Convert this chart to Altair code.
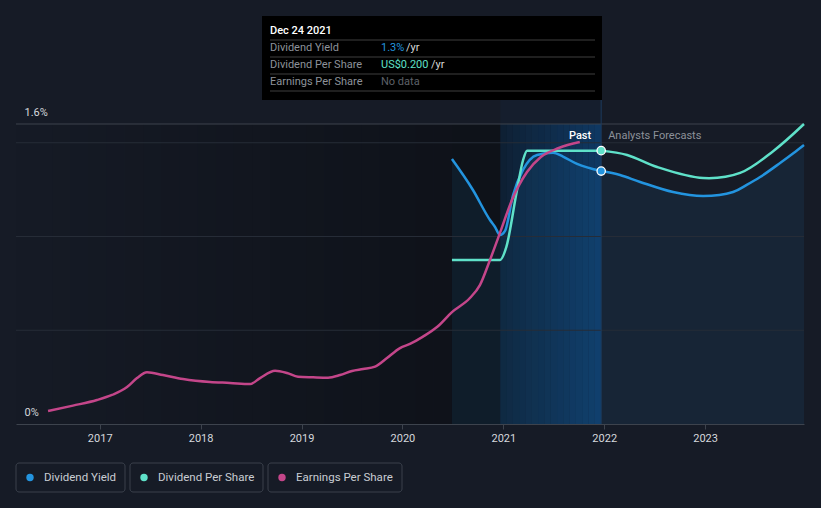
import altair as alt
import pandas as pd

# ---------------- data (decimal years; values on the chart's shared % scale) ----------------
eps_x = [2016.488, 2016.735, 2016.973, 2017.122, 2017.271, 2017.370, 2017.469, 2017.627, 2017.826,
         2018.093, 2018.291, 2018.490, 2018.589, 2018.738, 2018.857, 2018.966, 2019.115, 2019.263,
         2019.382, 2019.501, 2019.610, 2019.729, 2019.847, 2019.976, 2020.075, 2020.204, 2020.343,
         2020.491, 2020.669, 2020.768, 2020.868, 2020.967, 2021.086, 2021.235, 2021.372, 2021.550,
         2021.758]
eps_v = [0.069, 0.098, 0.128, 0.155, 0.197, 0.245, 0.276, 0.261, 0.240,
         0.224, 0.219, 0.213, 0.245, 0.284, 0.272, 0.252, 0.249, 0.247,
         0.261, 0.283, 0.293, 0.306, 0.352, 0.405, 0.427, 0.466, 0.517,
         0.597, 0.672, 0.741, 0.875, 1.019, 1.195, 1.344, 1.424, 1.472,
         1.504]

yield_x = [2020.491, 2020.699, 2020.868, 2020.918, 2020.967, 2021.017, 2021.096, 2021.195, 2021.334,
           2021.493, 2021.592, 2021.731, 2021.970, 2022.157, 2022.356, 2022.683, 2022.980, 2023.277,
           2023.412, 2023.545, 2023.743, 2023.874, 2023.980]
yield_v = [1.413, 1.248, 1.088, 1.051, 1.008, 1.030, 1.220, 1.355, 1.435,
           1.447, 1.426, 1.387, 1.349, 1.328, 1.291, 1.237, 1.216, 1.237,
           1.275, 1.317, 1.392, 1.444, 1.488]

dps_x = [2020.491, 2020.967, 2021.031, 2021.130, 2021.196, 2021.236, 2021.970, 2022.227, 2022.524,
         2022.980, 2023.347, 2023.674, 2023.980]
dps_v = [0.875, 0.875, 0.946, 1.230, 1.408, 1.458, 1.458, 1.435, 1.371,
         1.312, 1.339, 1.455, 1.600]

series_names = ["Dividend Yield", "Dividend Per Share", "Earnings Per Share"]
series_colors = ["#2394df", "#5fe1c9", "#c4468a"]

year_ticks = [2017, 2018, 2019, 2020, 2021, 2022, 2023]
y_label_vals = [0, 1.6]
grid_vals = [0.5, 1.0, 1.5]
top_val = 1.6

x_start, x_end = 2016.1705, 2023.980
now_x = 2021.970
band_start = 2020.970
past_dark_full = 2020.49

tip_date = "Dec 24 2021"
tip_labels = ["Dividend Yield", "Dividend Per Share", "Earnings Per Share"]
tip_values = ["1.3%", "US$0.200", "No data"]
tip_value_colors = ["#2394df", "#5fe1c9", "#5d6168"]

BG = "#161b26"
FONT = "Roboto"

# ---------------- tables ----------------
lines_df = pd.concat([
    pd.DataFrame({"x": yield_x, "v": yield_v, "s": series_names[0]}),
    pd.DataFrame({"x": dps_x, "v": dps_v, "s": series_names[1]}),
    pd.DataFrame({"x": eps_x, "v": eps_v, "s": series_names[2]}),
], ignore_index=True)
past_df = lines_df[lines_df["x"] <= now_x]
fc_df = lines_df[lines_df["x"] >= now_x]
yield_df = pd.DataFrame({"x": yield_x, "v": yield_v})
dots_df = pd.DataFrame({"x": [now_x, now_x],
                        "v": [yield_v[yield_x.index(now_x)], dps_v[dps_x.index(now_x)]],
                        "s": series_names[:2]})
one = pd.DataFrame({"a": [0]})

xscale = alt.Scale(domain=[x_start, x_end], nice=False, zero=False)
yscale = alt.Scale(domain=[0, top_val], nice=False, zero=False)
cscale = alt.Scale(domain=series_names, range=series_colors)

x_axis = alt.Axis(values=year_ticks, format="d", grid=False, domainColor="#3d434d",
                  tickColor="#3d434d", tickSize=5, labelPadding=3, labelColor="#d5d8dd",
                  labelFontSize=11, labelFont=FONT, title=None)
y_axis = alt.Axis(values=y_label_vals, grid=False, domain=False, ticks=False,
                  labelAlign="left", labelPadding=-8, labelBaseline="alphabetic",
                  labelOffset=-9, labelColor="#d5d8dd", labelFontSize=11, labelFont=FONT,
                  labelFlush=False, title=None,
                  labelExpr="datum.value == 0 ? '0%' : format(datum.value, '.1f') + '%'")


def X(v):
    return alt.datum(v, scale=xscale, axis=x_axis)


def Y(v):
    return alt.datum(v, scale=yscale, axis=y_axis)


layers = []

# past darkening: horizontal fade built from thin strips
N = 24
for i in range(N):
    a = x_start + (past_dark_full - x_start) * i / N
    b = x_start + (past_dark_full - x_start) * (i + 1) / N
    layers.append(alt.Chart(one).mark_rect(color="#000000", opacity=0.32 * (i + 0.5) / N).encode(
        x=X(a), x2=alt.datum(b), y=Y(top_val), y2=alt.datum(0)))
layers.append(alt.Chart(one).mark_rect(color="#000000", opacity=0.32).encode(
    x=X(past_dark_full), x2=alt.datum(now_x), y=Y(top_val), y2=alt.datum(0)))

# last-12-months band: fade in blue
M = 16
for i in range(M):
    a = band_start + (now_x - band_start) * i / M
    b = band_start + (now_x - band_start) * (i + 1) / M
    layers.append(alt.Chart(one).mark_rect(color="#1264b4",
                                           opacity=0.17 + 0.31 * (i + 0.5) / M).encode(
        x=X(a), x2=alt.datum(b), y=Y(top_val), y2=alt.datum(0)))
# faint extension of the band up to the tooltip
layers.append(alt.Chart(one).mark_rect(color="#1264b4", opacity=0.05).encode(
    x=X(band_start), x2=alt.datum(now_x), y=Y(1.728), y2=alt.datum(top_val)))

area = alt.Chart(yield_df).mark_area(interpolate="monotone", color="#2394df", opacity=0.09).encode(
    x=alt.X("x:Q", scale=xscale, axis=x_axis), y=alt.Y("v:Q", scale=yscale, axis=y_axis))

grid = alt.Chart(pd.DataFrame({"v": grid_vals})).mark_rule(color="#262c37", strokeWidth=1).encode(
    y=alt.Y("v:Q", scale=yscale, axis=y_axis))
top_line = alt.Chart(one).mark_rule(color="#3d434d", strokeWidth=1).encode(y=Y(top_val))

now_rule = alt.Chart(one).mark_rule(color="#1d3a5c", strokeWidth=1).encode(
    x=X(now_x), y=Y(0), y2=alt.datum(1.728))

past_lines = alt.Chart(past_df).mark_line(interpolate="monotone", strokeWidth=2.5).encode(
    x=alt.X("x:Q", scale=xscale, axis=x_axis),
    y=alt.Y("v:Q", scale=yscale, axis=y_axis),
    color=alt.Color("s:N", scale=cscale, legend=None),
    order=alt.Order("x:Q"),
)
fc_lines = alt.Chart(fc_df).mark_line(interpolate="catmull-rom", strokeWidth=2.5).encode(
    x=alt.X("x:Q", scale=xscale, axis=x_axis),
    y=alt.Y("v:Q", scale=yscale, axis=y_axis),
    color=alt.Color("s:N", scale=cscale, legend=None),
    order=alt.Order("x:Q"),
)

dots = alt.Chart(dots_df).mark_point(filled=True, size=70, stroke="white", strokeWidth=1.3,
                                     opacity=1).encode(
    x=alt.X("x:Q", scale=xscale, axis=x_axis), y=alt.Y("v:Q", scale=yscale, axis=y_axis),
    fill=alt.Fill("s:N", scale=cscale, legend=None))

past_txt = alt.Chart(one).mark_text(text="Past", align="right", baseline="middle", dx=-10, dy=12,
                                    color="#ffffff", fontSize=11, font=FONT, fontWeight=500).encode(
    x=X(now_x), y=Y(top_val))
fc_txt = alt.Chart(one).mark_text(text="Analysts Forecasts", align="left", baseline="middle", dx=7,
                                  dy=12, color="#8c9199", fontSize=11, font=FONT).encode(
    x=X(now_x), y=Y(top_val))

layers += [area, grid, top_line, now_rule, past_lines, fc_lines, dots, past_txt, fc_txt]

# ---------------- tooltip box (pixel placed, relative to plot origin) ----------------
layers.append(alt.Chart(one).mark_rect(color="#000000").encode(
    x=alt.value(246), x2=alt.value(586), y=alt.value(-108), y2=alt.value(-24)))
for yy in [-84, -67, -50, -33]:
    layers.append(alt.Chart(one).mark_rule(color="#3f3f3f", strokeWidth=1).encode(
        x=alt.value(254), x2=alt.value(579), y=alt.value(yy)))
layers.append(alt.Chart(one).mark_text(text=tip_date, align="left", baseline="middle",
                                       color="#ffffff", fontSize=11, font=FONT, fontWeight=500).encode(
    x=alt.value(254), y=alt.value(-93)))
slash_x = [390, 415, None]
for i, (lab, val, col) in enumerate(zip(tip_labels, tip_values, tip_value_colors)):
    yy = -76 + 17 * i
    layers.append(alt.Chart(one).mark_text(text=lab, align="left", baseline="middle",
                                           color="#8d929a", fontSize=11, font=FONT).encode(
        x=alt.value(254), y=alt.value(yy)))
    layers.append(alt.Chart(one).mark_text(text=val, align="left", baseline="middle",
                                           color=col, fontSize=11, font=FONT).encode(
        x=alt.value(365), y=alt.value(yy)))
    if slash_x[i] is not None:
        layers.append(alt.Chart(one).mark_text(text="/yr", align="left", baseline="middle",
                                               color="#d8d8d8", fontSize=11, font=FONT).encode(
            x=alt.value(slash_x[i]), y=alt.value(yy)))

# ---------------- legend (boxed items) ----------------
box_left = [0, 114, 252]
box_w = [109, 133, 134]
for name, col, bx, bw in zip(series_names, series_colors, box_left, box_w):
    layers.append(alt.Chart(one).mark_rect(color=BG, stroke="#3a404b", strokeWidth=1,
                                           cornerRadius=3).encode(
        x=alt.value(bx), x2=alt.value(bx + bw), y=alt.value(339), y2=alt.value(368)))
    layers.append(alt.Chart(one).mark_circle(size=55, color=col, opacity=1).encode(
        x=alt.value(bx + 14), y=alt.value(353.5)))
    layers.append(alt.Chart(one).mark_text(text=name, align="left", baseline="middle",
                                           color="#c9cdd3", fontSize=11.5, font=FONT).encode(
        x=alt.value(bx + 28), y=alt.value(353.5)))

chart = alt.layer(*layers).properties(
    width=788, height=300,
    padding={"left": 16, "top": 124, "right": 17, "bottom": 84},
    autosize=alt.AutoSizeParams(type="none"),
    background=BG,
).configure(font=FONT).configure_view(strokeWidth=0)

chart.save("out.html", embed_options={"renderer": "svg", "actions": False})
